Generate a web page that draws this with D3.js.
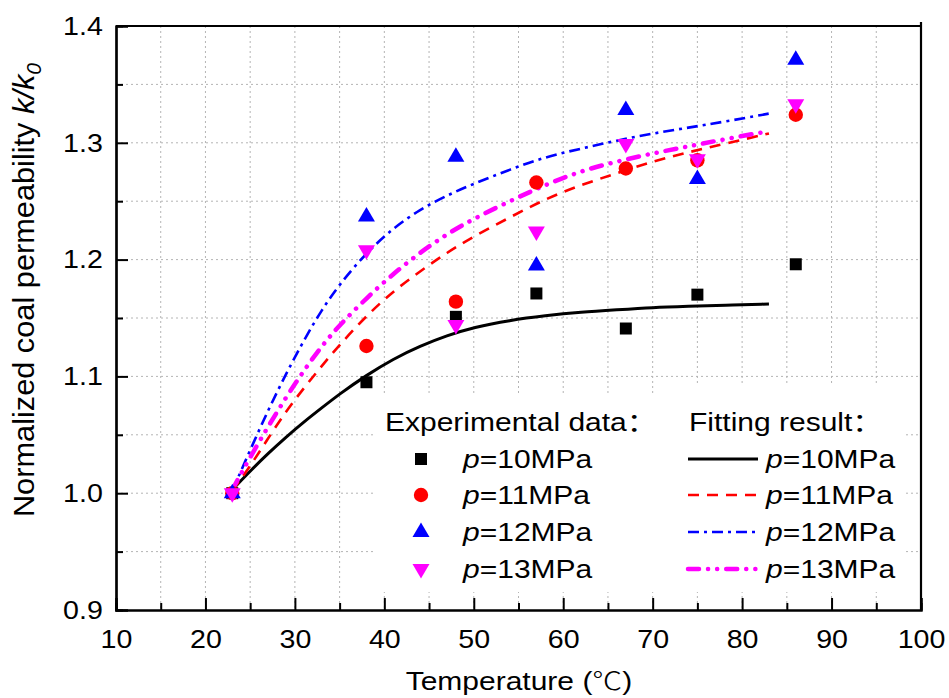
<!DOCTYPE html>
<html><head><meta charset="utf-8">
<script src="https://cdn.jsdelivr.net/npm/d3@7"></script>
<style>
html,body{margin:0;padding:0;background:#fff;}
svg{display:block;font-family:"Liberation Sans",Arial,"Noto Sans CJK SC",sans-serif;}
</style></head>
<body>
<svg id="chart" width="949" height="698"></svg>
<script>
// ---- data ----
const temps = [23, 38, 48, 57, 67, 75, 86];
const exp10 = [1.0, 1.095, 1.151, 1.171, 1.141, 1.170, 1.196];
const exp11 = [1.0, 1.126, 1.164, 1.266, 1.278, 1.285, 1.324];
const exp12 = [1.0, 1.237, 1.288, 1.195, 1.328, 1.269, 1.371];
const exp13 = [1.0, 1.208, 1.144, 1.224, 1.299, 1.286, 1.333];

const fitT  = [23, 25, 27, 29, 31, 33, 35, 38, 41, 44, 47, 50, 54, 58, 62, 66, 70, 74, 78, 83];
const fit10 = [1.003,1.019,1.034,1.048,1.061,1.073,1.085,1.101,1.115,1.126,1.135,1.142,1.148,1.152,1.155,1.157,1.159,1.160,1.161,1.162];
const fit11 = [1.002,1.023,1.047,1.070,1.090,1.109,1.127,1.152,1.173,1.190,1.206,1.220,1.236,1.252,1.264,1.274,1.284,1.292,1.299,1.308];
const fit12 = [1.002,1.037,1.071,1.102,1.131,1.157,1.179,1.206,1.227,1.243,1.255,1.265,1.277,1.288,1.295,1.302,1.308,1.313,1.318,1.325];
const fit13 = [1.003,1.031,1.057,1.082,1.105,1.126,1.144,1.167,1.188,1.206,1.222,1.235,1.250,1.264,1.276,1.284,1.291,1.297,1.303,1.310];

const xMajor = [10,20,30,40,50,60,70,80,90,100];
const xMinor = [15,25,35,45,55,65,75,85,95];
const yMajor = [0.9,1.0,1.1,1.2,1.3,1.4];
const yMinor = [0.95,1.05,1.15,1.25,1.35];
const yTickLabels = ["0.9","1.0","1.1","1.2","1.3","1.4"];
const seriesLabels = ["=10MPa","=11MPa","=12MPa","=13MPa"];

// ---- layout ----
const svg = d3.select("#chart");
const L = 116, R = 921, T = 26, B = 610;
const x = d3.scaleLinear().domain([10,100]).range([L,R]);
const y = d3.scaleLinear().domain([0.9,1.4]).range([B,T]);

const styles = [
  {color:"#000000", width:3,   dash:null, cap:"butt", marker:"square"},
  {color:"#ff0000", width:2.6, dash:"11,8", cap:"butt", marker:"circle"},
  {color:"#0000ff", width:2.6, dash:"11,5,3,5", cap:"butt", marker:"up"},
  {color:"#ff00ff", width:4.5, dash:"11,9,0.1,9,0.1,9", cap:"round", marker:"down"}
];

// grid
const grid = svg.append("g");
const gx = [...xMajor, ...xMinor].filter(v => v>10 && v<100);
const gy = [...yMajor, ...yMinor].filter(v => v>0.9 && v<1.4);
grid.selectAll("line.vx").data(gx).join("line")
  .attr("x1", d=>x(d)).attr("x2", d=>x(d)).attr("y1", T).attr("y2", B)
  .attr("stroke","#b4b4b4").attr("stroke-width",1).attr("stroke-dasharray","2,3");
grid.selectAll("line.hy").data(gy).join("line")
  .attr("y1", d=>y(d)).attr("y2", d=>y(d)).attr("x1", L).attr("x2", R)
  .attr("stroke","#b4b4b4").attr("stroke-width",1).attr("stroke-dasharray","2,3");

// legend background boxes
svg.append("rect").attr("x",376).attr("y",395).attr("width",306).attr("height",197).attr("fill","#fff");
svg.append("rect").attr("x",680).attr("y",383).attr("width",226).attr("height",209).attr("fill","#fff");

// fit curves
const fits = [fit10, fit11, fit12, fit13];
const line = d3.line().x(d=>x(d[0])).y(d=>y(d[1])).curve(d3.curveBasis);
fits.forEach((f,i) => {
  const s = styles[i];
  svg.append("path").datum(fitT.map((t,k)=>[t,f[k]]))
    .attr("d", line).attr("fill","none")
    .attr("stroke", s.color).attr("stroke-width", s.width)
    .attr("stroke-linecap", s.cap)
    .attr("stroke-dasharray", s.dash);
});

// markers
function markerPath(type){
  if (type==="square") return "M-6,-6H6V6H-6Z";
  if (type==="circle") return d3.symbol(d3.symbolCircle, Math.PI*7.2*7.2)();
  if (type==="up") return "M0,-9.5L8.5,5L-8.5,5Z";
  return "M0,9.5L8.5,-5L-8.5,-5Z";
}
const exps = [exp10, exp11, exp12, exp13];
exps.forEach((e,i) => {
  const s = styles[i];
  svg.append("g").selectAll("path").data(temps.map((t,k)=>[t,e[k]])).join("path")
    .attr("transform", d=>`translate(${x(d[0])},${y(d[1])})`)
    .attr("d", markerPath(s.marker)).attr("fill", s.color);
});

// axes
const TX = 1.1;
const xAxis = svg.append("g").attr("transform",`translate(0,${B})`)
  .call(d3.axisBottom(x).tickValues(xMajor).tickSize(-12).tickPadding(20).tickFormat(d3.format("d")));
const xAxisMinor = svg.append("g").attr("transform",`translate(0,${B})`)
  .call(d3.axisBottom(x).tickValues(xMinor).tickSize(-7).tickFormat(""));
const yAxis = svg.append("g").attr("transform",`translate(${L},0)`)
  .call(d3.axisLeft(y).tickValues(yMajor).tickSize(-12).tickPadding(12).tickFormat((d,i)=>yTickLabels[i]));
const yAxisMinor = svg.append("g").attr("transform",`translate(${L},0)`)
  .call(d3.axisLeft(y).tickValues(yMinor).tickSize(-7).tickFormat(""));
[xAxis,xAxisMinor,yAxis,yAxisMinor].forEach(g=>{
  g.select(".domain").attr("stroke","#000").attr("stroke-width",2.2);
  g.selectAll(".tick line").attr("stroke","#000").attr("stroke-width",2);
  g.selectAll(".tick text").attr("font-size",26).attr("fill","#000")
    .attr("font-family",'"Liberation Sans",Arial,sans-serif');
});
xAxis.selectAll(".tick text").attr("transform",`scale(${TX},1)`);
yAxis.selectAll(".tick text").attr("transform",`scale(${TX},1)`);
// top & right frame
svg.append("line").attr("x1",L).attr("x2",R).attr("y1",T).attr("y2",T).attr("stroke","#000").attr("stroke-width",2.2);
svg.append("line").attr("x1",R).attr("x2",R).attr("y1",T-4).attr("y2",B+1).attr("stroke","#000").attr("stroke-width",2.2);

// text helper
function txt(px, py, sx, size, anchor){
  return svg.append("text").attr("transform",`translate(${px},${py}) scale(${sx},1)`)
    .attr("font-size",size).attr("text-anchor",anchor||"start").attr("fill","#000");
}

// axis titles
const xt = txt(519, 690, 1.2, 25, "middle");
xt.append("tspan").text("Temperature (");
xt.append("tspan").attr("font-family",'"Noto Sans CJK SC",sans-serif').attr("font-weight",300).text("\u2103");
xt.append("tspan").text(")");
const yt = svg.append("text").attr("transform","translate(34,290) rotate(-90) scale(1.06,1)")
  .attr("font-size",29).attr("text-anchor","middle").attr("fill","#000");
yt.append("tspan").text("Normalized coal permeability ");
yt.append("tspan").attr("font-style","italic").text("k/k");
yt.append("tspan").attr("font-style","italic").attr("font-size",20).attr("dy",7).text("0");

// legend
const LS = 1.2, LF = 25;
txt(385, 431, LS, LF).text("Experimental data\uFF1A");
txt(689, 431, LS, LF).text("Fitting result\uFF1A");
const rowY = [459, 495, 532, 569];
styles.forEach((s,i) => {
  svg.append("path").attr("transform",`translate(421,${rowY[i]})`)
    .attr("d", markerPath(s.marker)).attr("fill", s.color);
  const t1 = txt(463, rowY[i]+9, LS, LF);
  t1.append("tspan").attr("font-style","italic").text("p");
  t1.append("tspan").text(seriesLabels[i]);
  svg.append("line").attr("x1",688).attr("x2",758).attr("y1",rowY[i]).attr("y2",rowY[i])
    .attr("stroke", s.color).attr("stroke-width", s.width)
    .attr("stroke-linecap", s.cap).attr("stroke-dasharray", s.dash);
  const t2 = txt(766, rowY[i]+9, LS, LF);
  t2.append("tspan").attr("font-style","italic").text("p");
  t2.append("tspan").text(seriesLabels[i]);
});
</script>
</body></html>
